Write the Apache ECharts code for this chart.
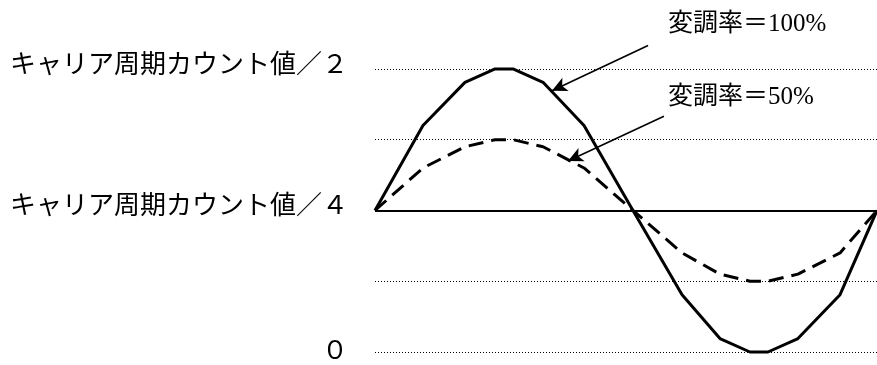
<!DOCTYPE html>
<html>
<head>
<meta charset="utf-8">
<script src="https://cdn.jsdelivr.net/npm/echarts@6/dist/echarts.min.js"></script>
<style>
  html, body { margin: 0; padding: 0; background: #fff; }
  #main { width: 877px; height: 365px; }
</style>
</head>
<body>
<div id="main"></div>
<script>
// 位相（度）
const phase = [0, 34.4, 64.5, 86.1, 99.0, 120.5, 149.9, 185.0, 220.2, 247.4, 268.9, 281.8, 303.3, 333.5, 360];
// 変調率100%
const full = [2, 3.2, 3.81, 4, 4, 3.81, 3.2, 2, 0.81, 0.19, 0, 0, 0.19, 0.81, 2];
// 変調率50%
const half = [2, 2.6, 2.9, 3, 3, 2.9, 2.6, 2, 1.4, 1.1, 1, 1, 1.1, 1.4, 2];
// y軸ラベル
const yTickLabels = { 0: "０", 2: "キャリア周期カウント値／４", 4: "キャリア周期カウント値／２" };
const gridValues = [0, 1, 3, 4];   // 点線
const centerValue = 2;             // 実線
// 注記
const noteTexts = ["変調率＝100%", "変調率＝50%"];
const arrow100 = [[195.8, 4.33], [126.9, 3.69]];
const arrow50 = [[207.2, 3.33], [138.4, 2.70]];

const FONT = '"Liberation Serif", "Noto Sans CJK JP", serif';

const chart = echarts.init(document.getElementById("main"));
chart.setOption({
  animation: false,
  grid: { left: 375, right: 0, top: 33.5, bottom: 7.5 },
  xAxis: { type: "value", min: 0, max: 360, show: false },
  yAxis: {
    type: "value",
    min: 0,
    max: 4.5,
    interval: 1,
    axisLine: { show: false },
    axisTick: { show: false },
    splitLine: { show: false },
    axisLabel: {
      margin: 27,
      color: "#000",
      fontSize: 26,
      fontFamily: FONT,
      formatter: v => {
        if (v === 0) return yTickLabels[0];
        return yTickLabels[v] ? "{up|" + yTickLabels[v] + "}" : "";
      },
      rich: { up: { fontSize: 26, fontFamily: FONT, color: "#000", padding: [0, 0, 6, 0] } },
    },
  },
  series: [
    {
      type: "line",
      data: phase.map((p, i) => [p, full[i]]),
      symbol: "none",
      clip: false,
      z: 3,
      lineStyle: { color: "#000", width: 3 },
      markLine: {
        silent: true,
        symbol: ["none", "arrow"],
        symbolSize: [11, 15],
        label: { show: false },
        lineStyle: { color: "#000", width: 1.6, type: "solid" },
        data: [
          [{ coord: arrow100[0] }, { coord: arrow100[1] }],
          [{ coord: arrow50[0] }, { coord: arrow50[1] }],
        ],
      },
    },
    {
      type: "line",
      data: phase.map((p, i) => [p, half[i]]),
      symbol: "none",
      clip: false,
      z: 3,
      lineStyle: { color: "#000", width: 3, type: [15, 8] },
      markLine: {
        silent: true,
        symbol: ["none", "none"],
        label: { show: false },
        data: gridValues.map(v => ({ yAxis: v, lineStyle: { color: "#000", width: 1, type: [1, 2] } }))
          .concat([{ yAxis: centerValue, lineStyle: { color: "#000", width: 2, type: "solid" } }]),
      },
    },
  ],
  graphic: [
    { type: "text", x: 668, y: 24, style: { text: noteTexts[0], fontSize: 25, fontFamily: FONT, fill: "#000", verticalAlign: "middle" } },
    { type: "text", x: 668, y: 97, style: { text: noteTexts[1], fontSize: 25, fontFamily: FONT, fill: "#000", verticalAlign: "middle" } },
  ],
});
</script>
</body>
</html>
